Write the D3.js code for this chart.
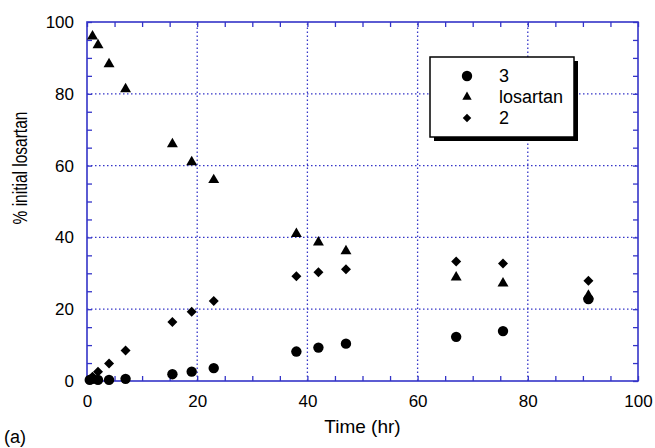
<!DOCTYPE html>
<html>
<head>
<meta charset="utf-8">
<script src="https://cdn.jsdelivr.net/npm/d3@7"></script>
<style>
  body { margin: 0; background: #fff; }
  text { font-family: "Liberation Sans", Arial, sans-serif; fill: #000; }
</style>
</head>
<body>
<script>
// data (time in hr, % of initial losartan)
var losartanT = [1, 2, 4, 7, 15.5, 19, 23, 38, 42, 47, 67, 75.5, 91]
var losartanY = [96, 93.6, 88.3, 81.3, 66, 61, 56, 41, 38.6, 36.2, 28.9, 27.2, 23.8]
var cpd2T = [1, 2, 4, 7, 15.5, 19, 23, 38, 42, 47, 67, 75.5, 91]
var cpd2Y = [1.2, 2.6, 4.9, 8.5, 16.4, 19.3, 22.3, 29.2, 30.3, 31.1, 33.3, 32.7, 27.9]
var cpd3T = [0.5, 1, 2, 4, 7, 15.5, 19, 23, 38, 42, 47, 67, 75.5, 91]
var cpd3Y = [0.3, 0.6, 0.3, 0.3, 0.6, 1.9, 2.6, 3.6, 8.2, 9.3, 10.4, 12.3, 13.9, 22.8]
var xTicks = [0, 20, 40, 60, 80, 100]
var yTicks = [0, 20, 40, 60, 80, 100]
var legendNames = ["3", "losartan", "2"]

var width = 655, height = 448
var margin = {top: 22, right: 17, bottom: 67, left: 87}
var blue = "#3434c8"

var svg = d3.select("body").append("svg")
    .attr("width", width)
    .attr("height", height)

var x = d3.scaleLinear().domain([0, 100]).range([margin.left, width - margin.right])
var y = d3.scaleLinear().domain([0, 100]).range([height - margin.bottom, margin.top])

var minor = d3.range(0, 101, 5)

// dotted grid
svg.append("g").selectAll("line").data(xTicks.slice(1, -1)).enter().append("line")
    .attr("x1", d => x(d)).attr("x2", d => x(d))
    .attr("y1", y(0)).attr("y2", y(100))
    .attr("stroke", blue).attr("stroke-width", 1.3).attr("stroke-dasharray", "1.5,2.5")
svg.append("g").selectAll("line").data(yTicks.slice(1, -1)).enter().append("line")
    .attr("y1", d => y(d)).attr("y2", d => y(d))
    .attr("x1", x(0)).attr("x2", x(100))
    .attr("stroke", blue).attr("stroke-width", 1.3).attr("stroke-dasharray", "1.5,2.5")

// inward ticks on all four sides
function styleAxis(g) {
  g.select(".domain").remove()
  g.selectAll(".tick line").attr("stroke", blue).attr("stroke-width", 1.3)
}
svg.append("g").attr("transform", "translate(0," + y(0) + ")")
    .call(d3.axisBottom(x).tickValues(minor).tickSize(-5).tickFormat(""))
    .call(styleAxis)
svg.append("g").attr("transform", "translate(0," + y(100) + ")")
    .call(d3.axisTop(x).tickValues(minor).tickSize(-5).tickFormat(""))
    .call(styleAxis)
svg.append("g").attr("transform", "translate(" + x(0) + ",0)")
    .call(d3.axisLeft(y).tickValues(minor).tickSize(-5).tickFormat(""))
    .call(styleAxis)
svg.append("g").attr("transform", "translate(" + x(100) + ",0)")
    .call(d3.axisRight(y).tickValues(minor).tickSize(-5).tickFormat(""))
    .call(styleAxis)

// frame
svg.append("rect")
    .attr("x", x(0)).attr("y", y(100))
    .attr("width", x(100) - x(0)).attr("height", y(0) - y(100))
    .attr("fill", "none").attr("stroke", blue).attr("stroke-width", 1.6)

// tick labels
var xl = d3.axisBottom(x).tickValues(xTicks).tickSize(0).tickPadding(14)
svg.append("g").attr("transform", "translate(0," + y(0) + ")").call(xl)
    .call(g => g.select(".domain").remove())
    .selectAll("text").style("font-size", "17px").style("font-family", "Liberation Sans, Arial, sans-serif")
var yl = d3.axisLeft(y).tickValues(yTicks).tickSize(0).tickPadding(13)
svg.append("g").attr("transform", "translate(" + x(0) + ",0)").call(yl)
    .call(g => g.select(".domain").remove())
    .selectAll("text").style("font-size", "17px").style("font-family", "Liberation Sans, Arial, sans-serif")

// axis titles
svg.append("text").attr("x", (x(0) + x(100)) / 2).attr("y", 433)
    .attr("text-anchor", "middle").style("font-size", "19px").text("Time (hr)")
// the source image is stretched sideways, so widen the rotated glyphs a bit
svg.append("text").attr("transform", "translate(27,168) rotate(-90) scale(1,1.3)")
    .attr("text-anchor", "middle").style("font-size", "15.5px").text("% initial losartan")
svg.append("text").attr("x", 4).attr("y", 443).style("font-size", "18px").text("(a)")

// markers
var tri = d3.symbol().type(d3.symbolTriangle).size(52)
var sq = d3.symbol().type(d3.symbolSquare).size(50)

function toPts(ts, ys) { return ts.map((t, i) => ({t: t, v: ys[i]})) }

svg.append("g").selectAll("path").data(toPts(losartanT, losartanY)).enter().append("path")
    .attr("d", tri).attr("transform", d => "translate(" + x(d.t) + "," + y(d.v) + ")")
svg.append("g").selectAll("path").data(toPts(cpd2T, cpd2Y)).enter().append("path")
    .attr("d", sq).attr("transform", d => "translate(" + x(d.t) + "," + y(d.v) + ") rotate(45)")
svg.append("g").selectAll("circle").data(toPts(cpd3T, cpd3Y)).enter().append("circle")
    .attr("cx", d => x(d.t)).attr("cy", d => y(d.v)).attr("r", 5.2)

// legend
var lg = svg.append("g").attr("transform", "translate(430,57)")
lg.append("rect").attr("x", 4).attr("y", 4).attr("width", 144).attr("height", 80).attr("fill", "#000")
lg.append("rect").attr("width", 144).attr("height", 80).attr("fill", "#fff")
    .attr("stroke", "#000").attr("stroke-width", 1.5)
var rows = lg.selectAll("g.row").data(legendNames).enter().append("g")
    .attr("class", "row").attr("transform", (d, i) => "translate(37," + (19 + i * 21) + ")")
rows.each(function(d, i) {
  var r = d3.select(this)
  if (i == 0) r.append("circle").attr("r", 5.2)
  else if (i == 1) r.append("path").attr("d", d3.symbol().type(d3.symbolTriangle).size(38))
  else r.append("path").attr("d", d3.symbol().type(d3.symbolSquare).size(36)).attr("transform", "rotate(45)")
})
rows.append("text").attr("x", 32).attr("dy", "0.36em").style("font-size", "18px").text(d => d)
</script>
</body>
</html>
